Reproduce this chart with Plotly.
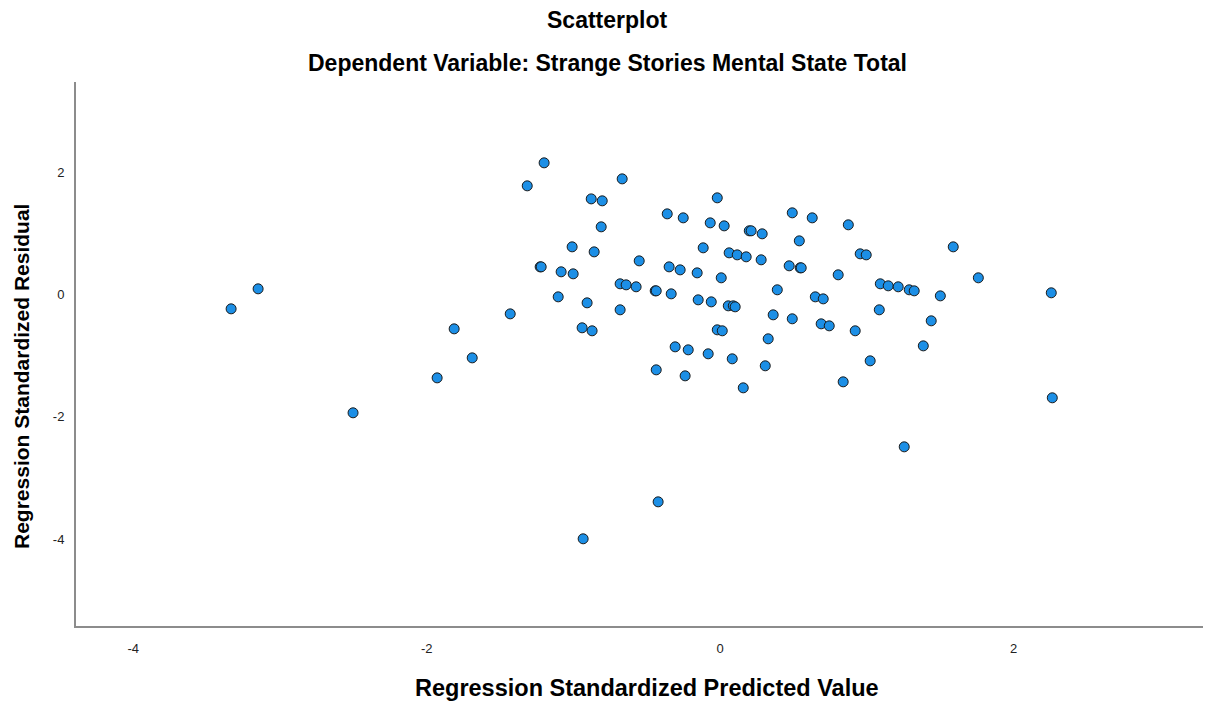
import plotly.graph_objects as go

# Regression Standardized Predicted Value (x) and Residual (y)
pred = [-3.333, -3.149, -2.502, -1.929, -1.813, -1.690, -1.431,
        -1.315, -1.200, -1.227, -1.220, -1.084, -1.002, -1.104, -0.907, -0.941, -0.873,
        -1.009, -0.859, -0.811, -0.879, -0.804, -0.668, -0.552, -0.682, -0.641, -0.573,
        -0.443, -0.436, -0.334, -0.682, -0.361, -0.252, -0.348, -0.273, -0.157, -0.436,
        -0.423, -0.934, -0.307, -0.218, -0.239, -0.082,
        -0.020, -0.068, 0.027, 0.198, 0.211, 0.286, -0.116, 0.061, 0.116, 0.177, 0.279,
        0.007, -0.150, -0.061, 0.055, 0.089, 0.102, -0.020, 0.014, 0.082, 0.157,
        0.327, 0.307, 0.389, 0.361,
        0.491, 0.627, 0.873, 0.539, 0.954, 0.995, 1.588, 0.470, 0.545, 0.552, 0.804,
        1.759, 2.256, 0.648, 0.702, 1.091, 1.145, 1.213, 1.288, 1.322, 1.500, 1.084,
        1.438, 0.491, 0.688, 0.743, 0.920, 1.022, 1.384, 0.838, 2.263, 1.254]
resid = [-0.237, 0.090, -1.936, -1.365, -0.564, -1.038, -0.319,
         1.773, 2.149, 0.449, 0.449, 0.368, 0.335, -0.041, -0.139, -0.547, -0.596,
         0.776, 0.694, 1.103, 1.560, 1.528, 1.887, 0.547, 0.172, 0.155, 0.123,
         0.057, 0.057, 0.008, -0.253, 1.315, 1.250, 0.449, 0.400, 0.351, -1.234,
         -3.391, -3.995, -0.858, -0.907, -1.332, -0.972,
         1.577, 1.168, 1.119, 1.038, 1.038, 0.989, 0.760, 0.678, 0.645, 0.613, 0.564,
         0.270, -0.090, -0.123, -0.188, -0.188, -0.204, -0.580, -0.596, -1.054, -1.528,
         -0.727, -1.168, 0.074, -0.335,
         1.332, 1.250, 1.136, 0.874, 0.662, 0.645, 0.776, 0.466, 0.433, 0.433, 0.319,
         0.270, 0.025, -0.041, -0.074, 0.172, 0.139, 0.123, 0.074, 0.057, -0.025, -0.253,
         -0.433, -0.400, -0.482, -0.515, -0.596, -1.087, -0.842, -1.430, -1.691, -2.492]

x_ticks = [-4, -2, 0, 2]
y_ticks = [-4, -2, 0, 2]

fig = go.Figure(go.Scatter(
    x=pred, y=resid, mode="markers",
    marker=dict(size=10, color="#1c8fe6", line=dict(color="#1a1a1a", width=1)),
    showlegend=False,
))

font_family = "Liberation Sans, Arial, sans-serif"
L, R, T, B = 76, 18, 82, 79
PW, PH = 1221 - L - R, 705 - T - B


def px_x(px):
    return (px - L) / PW


def px_y(py):
    return 1 - (py - T) / PH


fig.update_layout(
    width=1221, height=705,
    margin=dict(l=L, r=R, t=T, b=B),
    paper_bgcolor="white", plot_bgcolor="white",
    font=dict(family=font_family, color="#000000"),
    xaxis=dict(
        range=[-4.39, 3.29], tickvals=x_ticks, ticktext=[str(v) for v in x_ticks],
        showgrid=False, zeroline=False, showline=True, linecolor="#8c8c8c", linewidth=2,
        ticks="", ticklabelstandoff=9, tickfont=dict(size=13, color="#222"),
    ),
    yaxis=dict(
        range=[-5.42, 3.47], tickvals=y_ticks, ticktext=[str(v) for v in y_ticks],
        showgrid=False, zeroline=False, showline=True, linecolor="#8c8c8c", linewidth=2,
        ticks="", ticklabelstandoff=7, tickfont=dict(size=13, color="#222"),
    ),
)

fig.add_annotation(text="<b>Scatterplot</b>", xref="paper", yref="paper",
                   x=px_x(607), y=px_y(20),
                   showarrow=False, font=dict(size=23), yanchor="middle")
fig.add_annotation(text="<b>Dependent Variable: Strange Stories Mental State Total</b>",
                   xref="paper", yref="paper", x=px_x(607), y=px_y(63),
                   showarrow=False, font=dict(size=23), yanchor="middle")
fig.add_annotation(text="<b>Regression Standardized Predicted Value</b>",
                   xref="paper", yref="paper", x=px_x(647), y=px_y(688),
                   showarrow=False, font=dict(size=23.5), yanchor="middle")
fig.add_annotation(text="<b>Regression Standardized Residual</b>",
                   xref="paper", yref="paper", x=px_x(21), y=px_y(377),
                   showarrow=False, font=dict(size=21), textangle=-90,
                   xanchor="center", yanchor="middle")

fig.write_html("out.html")
